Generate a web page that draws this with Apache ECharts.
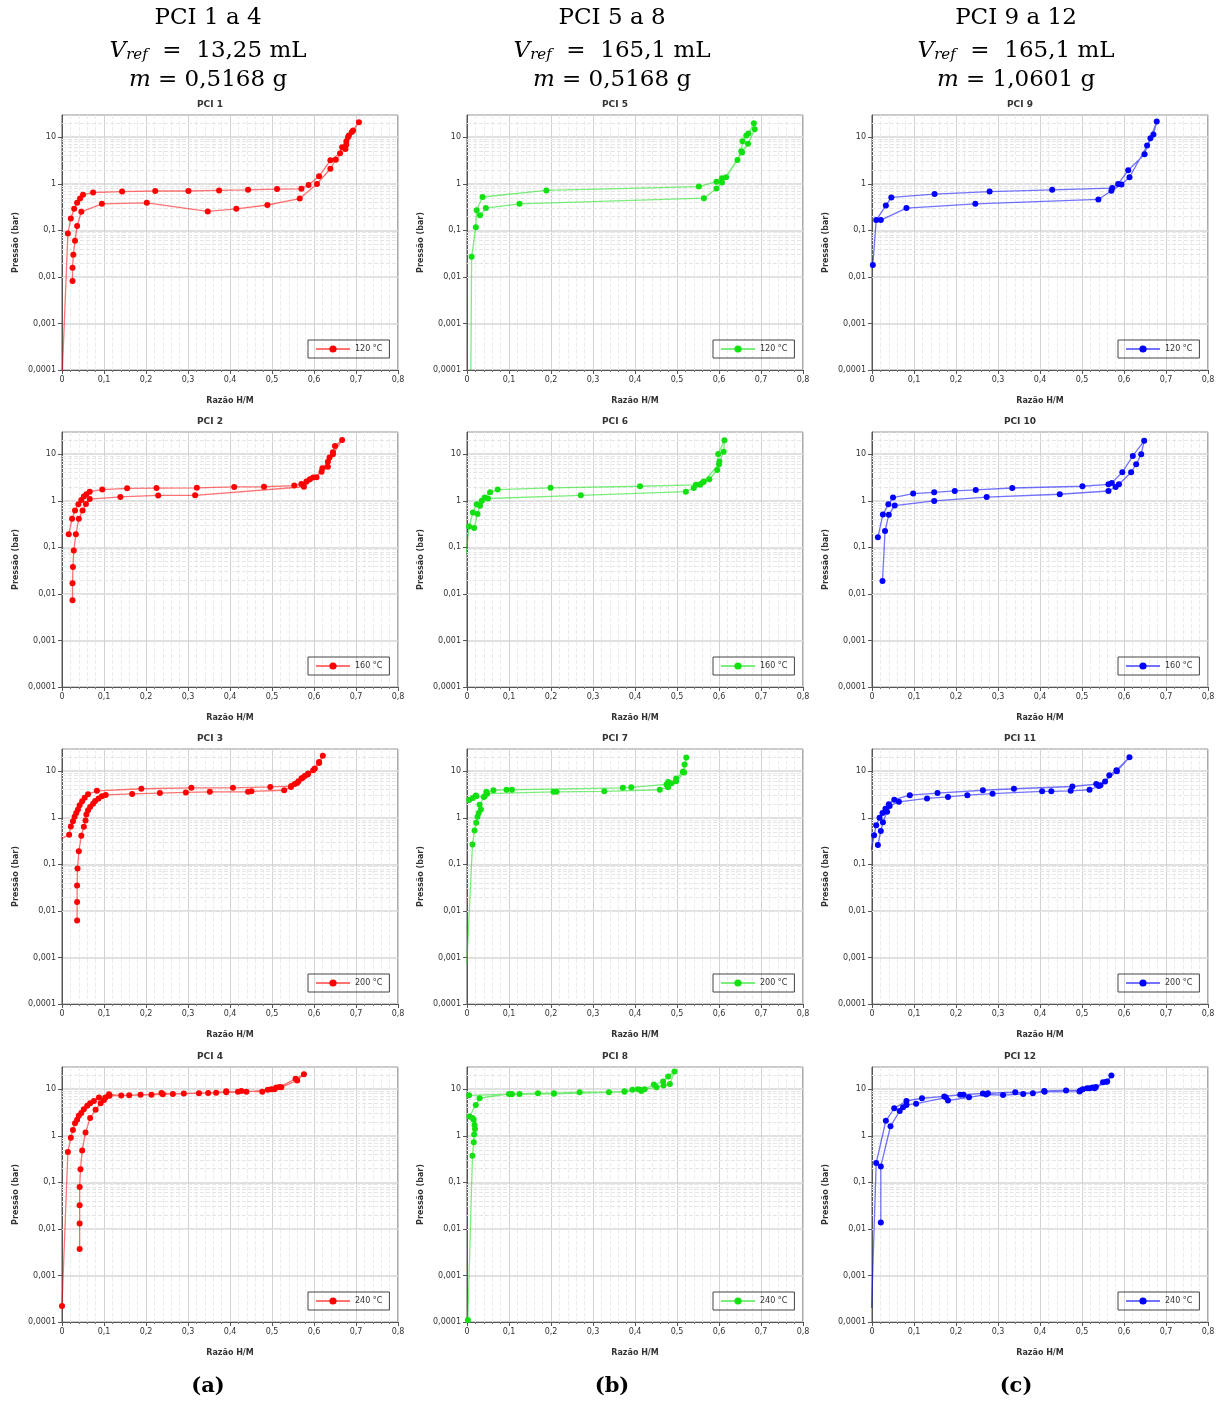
<!DOCTYPE html>
<html>
<head>
<meta charset="utf-8">
<script src="https://cdn.jsdelivr.net/npm/echarts@6/dist/echarts.min.js"></script>
<style>
  html, body { margin: 0; padding: 0; background: #fff; }
  #container { width: 1224px; height: 1405px; }
</style>
</head>
<body>
<div id="container"></div>
<script>
// ---- data ([H/M ratio, pressure in bar]) ----
var temps = ['120 °C', '160 °C', '200 °C', '240 °C'];
var colors = ['#ff0000', '#11e011', '#0000ff'];
var xTicks = [0, 0.1, 0.2, 0.3, 0.4, 0.5, 0.6, 0.7, 0.8];
var headers = [
    ['PCI 1 a 4', '13,25 mL', '0,5168 g'],
    ['PCI 5 a 8', '165,1 mL', '0,5168 g'],
    ['PCI 9 a 12', '165,1 mL', '1,0601 g']
];
var captions = ['(a)', '(b)', '(c)'];

var pci1 = [[0.0,0.00006],[0.014,0.085],[0.021,0.18],[0.029,0.29],[0.036,0.39],[0.043,0.48],[0.050,0.58],[0.074,0.65],[0.143,0.68],[0.222,0.70],[0.301,0.70],[0.374,0.72],[0.443,0.74],[0.512,0.77],[0.570,0.78],[0.587,0.94],[0.612,1.45],[0.639,3.2],[0.662,4.5],[0.667,6.1],[0.677,8.2],[0.683,10.9],[0.690,13],[0.707,21],
    [0.693,14],[0.681,10],[0.677,6.9],[0.675,5.6],[0.652,3.3],[0.639,2.1],[0.607,0.99],[0.566,0.48],[0.489,0.35],[0.415,0.29],[0.347,0.255],[0.202,0.39],[0.095,0.37],[0.046,0.25],[0.036,0.124],[0.031,0.06],[0.027,0.030],[0.025,0.0157],[0.025,0.0082]];
var pci2 = [[0.016,0.19],[0.024,0.41],[0.031,0.62],[0.039,0.84],[0.046,1.04],[0.052,1.23],[0.058,1.38],[0.066,1.57],[0.096,1.74],[0.155,1.85],[0.225,1.87],[0.321,1.9],[0.410,1.98],[0.481,2.0],[0.553,2.12],[0.570,2.3],[0.582,2.6],[0.590,2.9],[0.598,3.15],[0.606,3.2],[0.620,5.0],[0.633,6.9],[0.637,8.5],[0.645,11],[0.650,15],[0.667,20.3],
    [0.645,10],[0.633,5.4],[0.618,4.2],[0.576,2.0],[0.317,1.31],[0.229,1.3],[0.139,1.21],[0.066,1.09],[0.057,0.85],[0.049,0.62],[0.040,0.41],[0.033,0.19],[0.028,0.086],[0.026,0.038],[0.025,0.017],[0.025,0.0073]];
var pci3 = [[-0.003,0.35],[0.017,0.43],[0.021,0.65],[0.026,0.84],[0.030,1.05],[0.034,1.27],[0.038,1.5],[0.042,1.85],[0.048,2.27],[0.054,2.7],[0.062,3.2],[0.083,3.8],[0.189,4.2],[0.308,4.4],[0.407,4.4],[0.496,4.6],[0.546,4.8],[0.554,5.3],[0.563,6.1],[0.570,7.0],[0.578,7.9],[0.586,8.9],[0.602,11.4],[0.612,15.8],[0.621,21.4],
    [0.612,15],[0.598,10.5],[0.585,8.5],[0.573,7.2],[0.560,5.6],[0.545,4.6],[0.529,3.9],[0.451,3.7],[0.443,3.6],[0.352,3.6],[0.295,3.5],[0.233,3.4],[0.167,3.25],[0.104,3.1],[0.095,2.9],[0.087,2.6],[0.079,2.3],[0.074,2.0],[0.067,1.7],[0.062,1.45],[0.058,1.17],[0.056,0.87],[0.052,0.64],[0.046,0.41],[0.040,0.19],[0.037,0.081],[0.036,0.035],[0.036,0.0155],[0.036,0.0062]];
var pci4 = [[0.0,0.00022],[0.014,0.45],[0.021,0.91],[0.026,1.33],[0.031,1.85],[0.036,2.2],[0.040,2.7],[0.046,3.1],[0.052,3.7],[0.060,4.4],[0.067,5.0],[0.076,5.6],[0.088,6.6],[0.112,7.8],[0.141,7.3],[0.160,7.4],[0.187,7.6],[0.213,7.6],[0.237,8.3],[0.264,7.9],[0.290,8.1],[0.326,8.2],[0.348,8.3],[0.367,8.4],[0.391,9.0],[0.419,8.8],[0.427,9.2],[0.477,8.8],[0.490,9.7],[0.498,10],[0.510,10.9],[0.518,11.1],[0.556,16.7],[0.576,21],
    [0.560,15.4],[0.522,11],[0.506,10],[0.439,8.8],[0.391,8.6],[0.240,7.8],[0.113,7.2],[0.104,6.6],[0.100,5.9],[0.092,5.0],[0.080,3.6],[0.067,2.4],[0.056,1.17],[0.048,0.48],[0.044,0.19],[0.042,0.079],[0.042,0.032],[0.042,0.013],[0.042,0.0037]];
var pci5 = [[0.009,0.00005],[0.011,0.027],[0.021,0.117],[0.023,0.27],[0.037,0.52],[0.189,0.72],[0.552,0.87],[0.594,1.11],[0.607,1.31],[0.617,1.38],[0.644,3.25],[0.653,5.0],[0.656,8.2],[0.665,10.9],[0.670,12],[0.683,20],
    [0.685,14.9],[0.669,7.2],[0.655,4.7],[0.607,1.06],[0.594,0.79],[0.564,0.49],[0.125,0.37],[0.045,0.30],[0.031,0.21]];
var pci6 = [[-0.002,0.07],[0.005,0.28],[0.014,0.56],[0.023,0.84],[0.035,1.0],[0.042,1.17],[0.055,1.52],[0.073,1.74],[0.199,1.9],[0.412,2.05],[0.545,2.2],[0.556,2.3],[0.564,2.6],[0.577,2.9],[0.596,4.6],[0.598,10.1],[0.613,20],
    [0.611,11.3],[0.601,7.0],[0.600,6.1],[0.562,2.5],[0.555,2.2],[0.540,1.88],[0.521,1.57],[0.271,1.31],[0.050,1.12],[0.031,0.78],[0.025,0.52],[0.017,0.26]];
var pci7 = [[-0.0005,0.0007],[0.013,0.265],[0.018,0.53],[0.022,0.78],[0.025,1.05],[0.028,1.27],[0.033,1.5],[0.030,1.9],[0.042,2.9],[0.046,3.6],[0.063,3.9],[0.094,4.0],[0.107,4.0],[0.371,4.4],[0.391,4.5],[0.475,5.2],[0.479,5.9],[0.487,5.5],[0.498,7.0],[0.514,9.7],[0.518,14],[0.522,19.7],
    [0.517,9.4],[0.498,6.1],[0.479,4.5],[0.459,4.0],[0.327,3.7],[0.213,3.6],[0.206,3.6],[0.048,3.3],[0.040,2.8],[0.022,2.9],[0.021,3.0],[0.014,2.65],[0.005,2.4]];
var pci8 = [[0.002,0.00011],[0.013,0.37],[0.016,0.73],[0.017,1.07],[0.019,1.4],[0.018,1.7],[0.016,2.2],[0.013,2.4],[0.006,2.6],[0.021,4.6],[0.030,6.4],[0.100,7.9],[0.107,7.9],[0.125,7.9],[0.169,8.2],[0.207,8.2],[0.268,8.6],[0.338,8.6],[0.375,9.0],[0.394,9.7],[0.407,10],[0.415,9.2],[0.423,10],[0.445,12.6],[0.467,14.6],[0.479,18.7],[0.494,24],
    [0.483,13],[0.468,12],[0.451,11],[0.413,9.7],[0.375,8.8],[0.207,8.0],[0.106,7.8],[0.005,7.4]];
var pci9 = [[0.002,0.018],[0.010,0.166],[0.033,0.34],[0.046,0.51],[0.149,0.60],[0.280,0.68],[0.429,0.74],[0.572,0.81],[0.586,0.99],[0.610,1.95],[0.649,4.3],[0.655,6.6],[0.663,9.5],[0.678,21.7],
    [0.670,11.4],[0.613,1.38],[0.594,0.96],[0.570,0.71],[0.539,0.46],[0.246,0.37],[0.082,0.30],[0.021,0.166]];
var pci10 = [[0.014,0.164],[0.026,0.51],[0.039,0.84],[0.050,1.17],[0.098,1.43],[0.148,1.52],[0.197,1.63],[0.247,1.71],[0.334,1.88],[0.501,2.05],[0.563,2.26],[0.571,2.42],[0.596,4.1],[0.621,9.2],[0.648,19.4],
    [0.641,10],[0.629,6.1],[0.617,4.1],[0.588,2.27],[0.580,1.98],[0.563,1.62],[0.447,1.38],[0.273,1.2],[0.148,0.99],[0.054,0.79],[0.040,0.5],[0.031,0.224],[0.025,0.019]];
var pci11 = [[-0.002,0.2],[0.005,0.42],[0.010,0.69],[0.018,1.0],[0.025,1.27],[0.032,1.57],[0.040,1.95],[0.053,2.45],[0.090,3.05],[0.156,3.4],[0.264,3.9],[0.338,4.2],[0.477,4.7],[0.534,5.3],[0.544,5.0],[0.555,6.0],[0.565,8.2],[0.582,10.5],[0.613,20],
    [0.583,10],[0.540,4.8],[0.518,4.0],[0.473,3.8],[0.427,3.7],[0.405,3.7],[0.287,3.3],[0.227,3.05],[0.181,2.8],[0.131,2.6],[0.064,2.2],[0.042,1.8],[0.036,1.35],[0.026,0.8],[0.021,0.52],[0.014,0.26]];
var pci12 = [[-0.001,0.0002],[0.010,0.26],[0.033,2.1],[0.053,3.9],[0.082,5.6],[0.119,6.4],[0.172,7.0],[0.210,7.6],[0.218,7.6],[0.264,8.1],[0.276,8.2],[0.341,8.6],[0.383,8.2],[0.410,9.2],[0.462,9.4],[0.496,9.4],[0.502,10],[0.512,10.5],[0.525,10.9],[0.533,11.1],[0.550,14.1],[0.558,14.4],[0.570,19.7],
    [0.560,14.6],[0.530,10.5],[0.518,10.5],[0.494,8.9],[0.411,8.8],[0.360,7.9],[0.312,7.5],[0.272,7.7],[0.231,6.7],[0.181,5.7],[0.176,6.6],[0.105,4.9],[0.082,4.6],[0.074,4.1],[0.066,3.4],[0.044,1.6],[0.021,0.22],[0.021,0.0137]];

var panels = [[pci1, pci2, pci3, pci4], [pci5, pci6, pci7, pci8], [pci9, pci10, pci11, pci12]];

// ---- layout ----
var colLeft = [62, 467, 872];
var rowTop = [115, 432, 749, 1067];
var plotW = 336, plotH = 255;
var colCenter = [208, 612, 1016];

// minor gridlines of the log axis (2..9 in every decade)
var minorLog = [];
for (var d = -4; d <= 1; d++) {
    for (var k = 2; k <= 9; k++) {
        var v = +(k * Math.pow(10, d)).toPrecision(3);
        if (v < 30) minorLog.push({ yAxis: v });
    }
}

function fmtNum(v) {
    return String(+(+v).toPrecision(6)).replace('.', ',');
}

var axisFont = 'DejaVu Sans';
var grids = [], xAxes = [], yAxes = [], series = [], legends = [], graphics = [];

for (var c = 0; c < 3; c++) {
    for (var r = 0; r < 4; r++) {
        var i = grids.length;
        var n = c * 4 + r + 1;
        grids.push({
            left: colLeft[c], top: rowTop[r], width: plotW, height: plotH,
            show: true, borderColor: '#555', borderWidth: 1, backgroundColor: '#fff'
        });
        xAxes.push({
            type: 'value', gridIndex: i, min: xTicks[0], max: xTicks[xTicks.length - 1], interval: 0.1,
            name: 'Razão H/M', nameLocation: 'middle', nameGap: 27,
            nameTextStyle: { fontSize: 8, fontWeight: 'bold', color: '#333', fontFamily: axisFont },
            axisLine: { lineStyle: { color: '#555' } },
            axisTick: { show: true, length: 4, lineStyle: { color: '#555' } },
            minorTick: { show: true, splitNumber: 5, length: 2, lineStyle: { color: '#777' } },
            axisLabel: { fontSize: 8, color: '#333', fontFamily: axisFont, margin: 6,
                formatter: function (v) { return v === 0 ? '0' : String(+v.toFixed(1)).replace('.', ','); } },
            splitLine: { show: true, lineStyle: { color: '#d2d2d2', width: 1 } },
            minorSplitLine: { show: true, lineStyle: { color: '#ececec', type: 'dashed', width: 1 } }
        });
        yAxes.push({
            type: 'log', logBase: 10, gridIndex: i, min: 0.0001, max: 30,
            name: 'Pressão (bar)', nameLocation: 'middle', nameGap: 42,
            nameTextStyle: { fontSize: 8, fontWeight: 'bold', color: '#333', fontFamily: axisFont },
            axisLine: { lineStyle: { color: '#555' } },
            axisTick: { show: true, length: 4, lineStyle: { color: '#555' } },
            axisLabel: { fontSize: 8, color: '#333', fontFamily: axisFont, margin: 6,
                showMaxLabel: false, formatter: fmtNum },
            splitLine: { show: true, lineStyle: { color: '#d6d6d6', width: 1.5 } }
        });
        var name = temps[r] + '#' + n;
        series.push({
            name: name, type: 'line', xAxisIndex: i, yAxisIndex: i,
            data: panels[c][r],
            symbol: 'circle', symbolSize: 6, showSymbol: true,
            itemStyle: { color: colors[c] },
            lineStyle: { color: colors[c], width: 1.3, opacity: 0.55 },
            clip: true, animation: false, z: 3,
            markLine: {
                silent: true, symbol: 'none', z: 1, animation: false,
                label: { show: false },
                lineStyle: { color: '#e6e6e6', type: 'dashed', width: 1 },
                data: minorLog
            }
        });
        legends.push({
            data: [name],
            left: colLeft[c] + 246, top: rowTop[r] + 225,
            borderColor: '#444', borderWidth: 1, borderRadius: 0,
            padding: [5, 7], itemWidth: 34, itemHeight: 9, itemGap: 4,
            textStyle: { fontSize: 8, color: '#333', fontFamily: axisFont },
            formatter: function (s) { return s.split('#')[0]; }
        });
        graphics.push({
            type: 'text', x: colLeft[c] + 148, y: rowTop[r] - 10,
            style: { text: 'PCI ' + n, align: 'center', verticalAlign: 'middle',
                font: 'bold 9px "DejaVu Sans"', fill: '#333' }
        });
    }
}

// column headers and captions
var serif = '"DejaVu Serif", serif';
for (var h = 0; h < 3; h++) {
    graphics.push({
        type: 'text', x: colCenter[h], y: 18,
        style: { text: headers[h][0], align: 'center', verticalAlign: 'middle',
            font: '23px ' + serif, fill: '#000' }
    });
    graphics.push({
        type: 'text', x: colCenter[h], y: 49,
        style: {
            text: '{it|V}{sub|ref}{n|  =  ' + headers[h][1] + '}',
            align: 'center', verticalAlign: 'middle', font: '23px ' + serif, fill: '#000',
            rich: {
                it: { fontSize: 23, fontStyle: 'italic', fontFamily: 'DejaVu Serif', verticalAlign: 'bottom', lineHeight: 27 },
                sub: { fontSize: 15, fontStyle: 'italic', fontFamily: 'DejaVu Serif', verticalAlign: 'bottom', lineHeight: 21 },
                n: { fontSize: 23, fontFamily: 'DejaVu Serif', verticalAlign: 'bottom', lineHeight: 27 }
            }
        }
    });
    graphics.push({
        type: 'text', x: colCenter[h], y: 80,
        style: {
            text: '{it|m}{n| = ' + headers[h][2] + '}',
            align: 'center', verticalAlign: 'middle', font: '23px ' + serif, fill: '#000',
            rich: {
                it: { fontSize: 23, fontStyle: 'italic', fontFamily: 'DejaVu Serif' },
                n: { fontSize: 23, fontFamily: 'DejaVu Serif' }
            }
        }
    });
    graphics.push({
        type: 'text', x: colCenter[h], y: 1387,
        style: { text: captions[h], align: 'center', verticalAlign: 'middle',
            font: 'bold 21px ' + serif, fill: '#000' }
    });
}

var myChart = echarts.init(document.getElementById('container'), null, { renderer: 'canvas' });
myChart.setOption({
    backgroundColor: '#fff',
    animation: false,
    grid: grids,
    xAxis: xAxes,
    yAxis: yAxes,
    legend: legends,
    series: series,
    graphic: graphics
});
</script>
</body>
</html>
